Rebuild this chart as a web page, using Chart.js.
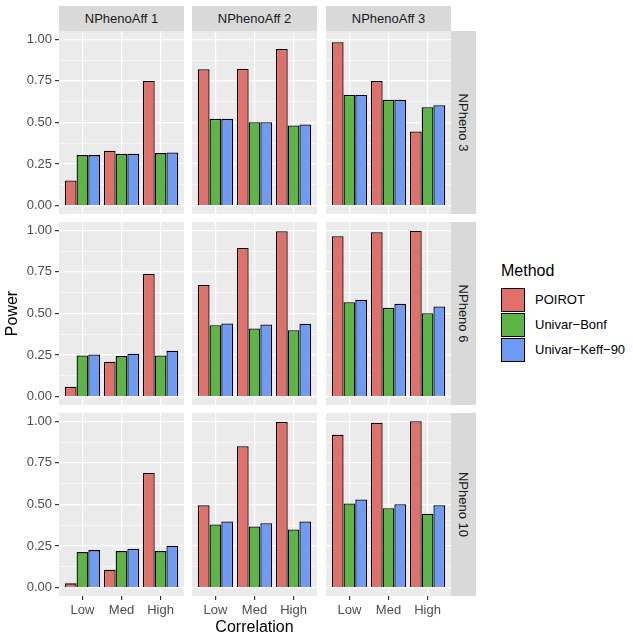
<!DOCTYPE html>
<html>
<head>
<meta charset="utf-8">
<script src="https://cdn.jsdelivr.net/npm/chart.js@4"></script>
<style>
  body { margin: 0; background: #fff; overflow: hidden; font-family: "Liberation Sans", Arial, sans-serif; }
  #wrap { position: relative; width: 633px; height: 639px; }
  canvas { position: absolute; }
  .strip { position: absolute; background: #d9d9d9; color: #1a1a1a; font-size: 13px;
           display: flex; align-items: center; justify-content: center; }
  .strip.right span { transform: rotate(90deg); white-space: nowrap; }
  .legend { position: absolute; font-size: 13px; color: #000; }
  .key { position: absolute; width: 22px; height: 22px; border: 1.3px solid #000; }
</style>
</head>
<body>
<div id="wrap"></div>
<script>
// data
const correlation = ['Low', 'Med', 'High'];
const nPhenoAff = ['NPhenoAff 1', 'NPhenoAff 2', 'NPhenoAff 3'];
const nPheno = ['NPheno 3', 'NPheno 6', 'NPheno 10'];
const methods = ['POIROT', 'Univar\u2212Bonf', 'Univar\u2212Keff\u221290'];
const colors = ['#e0716a', '#5db545', '#6e9bf5'];
const yTicks = [0, 0.25, 0.5, 0.75, 1];

// [row = NPheno][col = NPhenoAff] -> Low, Med, High
const poirot = [
  [[0.152, 0.33, 0.75], [0.82, 0.822, 0.942], [0.982, 0.75, 0.446]],
  [[0.06, 0.21, 0.738], [0.672, 0.894, 0.994], [0.964, 0.988, 0.998]],
  [[0.026, 0.108, 0.69], [0.496, 0.85, 0.996], [0.92, 0.992, 1.0]]
];
const univarBonf = [
  [[0.304, 0.312, 0.316], [0.522, 0.502, 0.482], [0.666, 0.636, 0.592]],
  [[0.248, 0.244, 0.248], [0.43, 0.41, 0.40], [0.568, 0.534, 0.502]],
  [[0.214, 0.22, 0.22], [0.38, 0.368, 0.35], [0.506, 0.478, 0.444]]
];
const univarKeff = [
  [[0.304, 0.312, 0.32], [0.522, 0.502, 0.488], [0.666, 0.636, 0.604]],
  [[0.254, 0.258, 0.276], [0.44, 0.434, 0.438], [0.582, 0.558, 0.542]],
  [[0.226, 0.234, 0.252], [0.398, 0.388, 0.398], [0.53, 0.502, 0.496]]
];
const series = [poirot, univarBonf, univarKeff];

const wrap = document.getElementById('wrap');
const colLeft = [59, 192, 326];
const rowTop = [31, 222, 413];
const panelW = 125, panelH = 183;
const yAxisW = 59, xAxisH = 44;
const fam = '"Liberation Sans", Arial, sans-serif';

const panelBg = {
  id: 'panelBg',
  beforeDraw(chart) {
    const a = chart.chartArea;
    chart.ctx.save();
    chart.ctx.fillStyle = '#ebebeb';
    chart.ctx.fillRect(a.left, a.top, a.right - a.left, a.bottom - a.top);
    chart.ctx.restore();
  }
};

function makePanel(row, col) {
  const hasY = col === 0;
  const hasX = row === 2;
  const c = document.createElement('canvas');
  const w = panelW + (hasY ? yAxisW : 0);
  const h = panelH + (hasX ? xAxisH : 0);
  c.width = w; c.height = h;
  c.style.left = (colLeft[col] - (hasY ? yAxisW : 0)) + 'px';
  c.style.top = rowTop[row] + 'px';
  wrap.appendChild(c);

  new Chart(c, {
    type: 'bar',
    data: {
      datasets: methods.map((m, k) => ({
        label: m,
        data: series[k][row][col].map((v, i) => ({ x: i + 1, y: v })),
        backgroundColor: colors[k],
        borderColor: '#000',
        borderWidth: 1.3,
        categoryPercentage: 0.9,
        barPercentage: 1.0
      }))
    },
    options: {
      responsive: false,
      animation: false,
      layout: { padding: 0 },
      plugins: { legend: { display: false }, tooltip: { enabled: false } },
      scales: {
        x: {
          type: 'linear',
          min: 0.4, max: 3.6,
          offset: false,
          afterBuildTicks: s => { s.ticks = correlation.map((_, i) => ({ value: i + 1 })); },
          afterFit: s => { s.height = hasX ? xAxisH : 0; s.paddingLeft = 0; s.paddingRight = 0; },
          border: { display: false },
          grid: { offset: false, color: '#fff', lineWidth: 1.2, drawTicks: hasX, tickLength: 4, tickColor: '#333', tickWidth: 1.2 },
          ticks: {
            display: hasX, padding: 3, color: '#4d4d4d', maxRotation: 0, autoSkip: false,
            font: { size: 13, family: fam },
            callback: v => correlation[v - 1]
          },
          title: {
            display: hasX && col === 1, text: 'Correlation', color: '#000',
            font: { size: 16, family: fam }, padding: 3
          }
        },
        y: {
          min: -0.05, max: 1.05,
          offset: false,
          afterBuildTicks: s => {
            const t = [];
            for (let v = 0; v <= 1.0001; v += 0.125) t.push({ value: Math.round(v * 1000) / 1000 });
            s.ticks = t;
          },
          afterFit: s => { s.width = hasY ? yAxisW : 0; s.paddingTop = 0; s.paddingBottom = 0; },
          border: { display: false },
          grid: {
            offset: false,
            color: '#fff',
            lineWidth: ctx => (yTicks.includes(ctx.tick.value) ? 1.2 : 0.6),
            drawTicks: hasY, tickLength: 4, tickWidth: 1.2,
            tickColor: ctx => (yTicks.includes(ctx.tick.value) ? '#333' : 'rgba(0,0,0,0)')
          },
          ticks: {
            display: hasY, padding: 3, color: '#4d4d4d', autoSkip: false,
            font: { size: 13, family: fam },
            callback: v => (yTicks.includes(v) ? v.toFixed(2) : '')
          },
          title: {
            display: hasY && row === 1, text: 'Power', color: '#000',
            font: { size: 16, family: fam }, padding: 3
          }
        }
      }
    },
    plugins: [panelBg]
  });
}

for (let r = 0; r < 3; r++) for (let c = 0; c < 3; c++) makePanel(r, c);

// facet strips
nPhenoAff.forEach((t, i) => {
  const d = document.createElement('div');
  d.className = 'strip';
  d.style.cssText = `left:${colLeft[i]}px;top:6px;width:${panelW}px;height:25px;`;
  d.textContent = t;
  wrap.appendChild(d);
});
nPheno.forEach((t, j) => {
  const d = document.createElement('div');
  d.className = 'strip right';
  d.style.cssText = `left:451px;top:${rowTop[j]}px;width:25px;height:${panelH}px;`;
  d.innerHTML = `<span>${t}</span>`;
  wrap.appendChild(d);
});

// legend
const lt = document.createElement('div');
lt.className = 'legend';
lt.style.cssText = 'left:501px;top:262px;font-size:16px;';
lt.textContent = 'Method';
wrap.appendChild(lt);
methods.forEach((m, k) => {
  const key = document.createElement('div');
  key.className = 'key';
  key.style.cssText = `left:501px;top:${288 + k * 25}px;background:${colors[k]};`;
  wrap.appendChild(key);
  const lab = document.createElement('div');
  lab.className = 'legend';
  lab.style.cssText = `left:535px;top:${292 + k * 25}px;`;
  lab.textContent = m;
  wrap.appendChild(lab);
});
</script>
</body>
</html>
